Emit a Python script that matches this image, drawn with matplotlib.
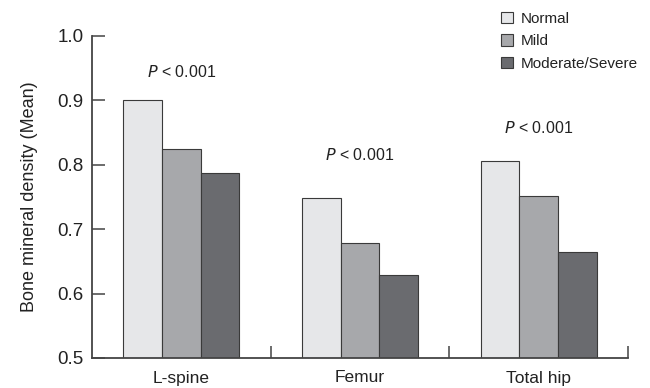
import numpy as np
import matplotlib.pyplot as plt
from matplotlib.patches import Patch

plt.rcParams['font.family'] = ['Liberation Sans Narrow', 'Liberation Sans', 'DejaVu Sans']

# data
sites = ['L-spine', 'Femur', 'Total hip']
groups = ['Normal', 'Mild', 'Moderate/Severe']
normal = [0.900, 0.749, 0.806]
mild = [0.825, 0.679, 0.752]
moderate = [0.787, 0.629, 0.665]
p_labels = ['< 0.001', '< 0.001', '< 0.001']
p_heights = [0.944, 0.8145, 0.8575]

colors = ['#e6e7e9', '#a7a8ab', '#6a6b6f']
edge = '#3a3a3a'

fig = plt.figure(figsize=(6.5, 3.88), dpi=100)
ax = fig.add_axes([92/650, 1 - 358/388, 536/650, 322/388])

x = np.arange(len(sites))
w = 0.217
for i, vals in enumerate([normal, mild, moderate]):
    ax.bar(x + (i - 1) * w, vals, width=w, color=colors[i], edgecolor=edge,
           linewidth=0.8, zorder=2)

for xi, lab, h in zip(x, p_labels, p_heights):
    ax.text(xi, h, r'$\it{P}$' + ' ' + lab, ha='center', va='center', fontsize=11.5,
            color='#222222')

ax.set_xlim(-0.5, 2.5)
ax.set_ylim(0.5, 1.0)
ax.set_yticks([0.5, 0.6, 0.7, 0.8, 0.9, 1.0])
ax.set_yticklabels(['0.5', '0.6', '0.7', '0.8', '0.9', '1.0'])
ax.set_xticks(x)
ax.set_xticklabels(sites)
ax.set_xticks([0.5, 1.5, 2.5], minor=True)

for s in ['top', 'right']:
    ax.spines[s].set_visible(False)
for s in ['left', 'bottom']:
    ax.spines[s].set_color('#444444')
    ax.spines[s].set_linewidth(1.3)

ax.tick_params(axis='y', direction='in', length=9, width=1.1, color='#444444',
               labelsize=13.5, pad=6, labelcolor='#222222')
ax.tick_params(axis='x', which='major', length=0, labelsize=12.5, pad=9,
               labelcolor='#222222')
ax.tick_params(axis='x', which='minor', direction='in', length=9, width=1.1,
               color='#444444')
ax.set_ylabel('Bone mineral density (Mean)', fontsize=13, color='#222222', labelpad=14)

handles = [Patch(facecolor=c, edgecolor=edge, linewidth=0.8) for c in colors]
fig.legend(handles, groups, loc='upper left', bbox_to_anchor=(492/650, 0.993),
           frameon=False, fontsize=11, handlelength=0.75, handleheight=0.75,
           handletextpad=0.5, labelspacing=0.55, borderaxespad=0.2,
           labelcolor='#222222')

fig.savefig('out.png', dpi=100)
